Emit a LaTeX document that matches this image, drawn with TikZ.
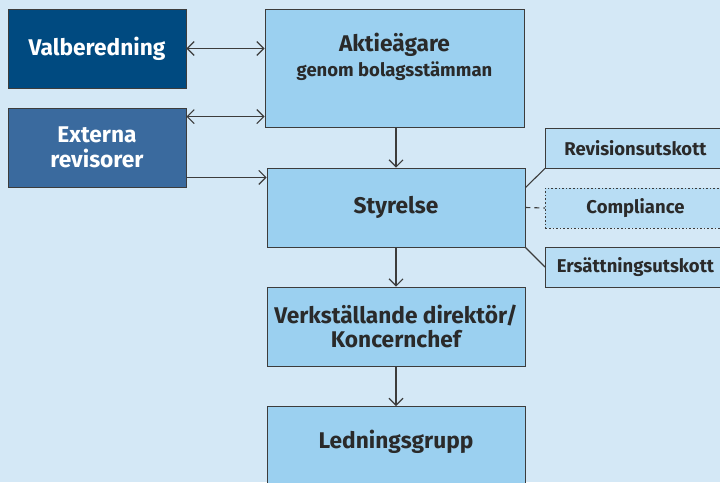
\documentclass[tikz,border=0pt]{standalone}
\usepackage{fontspec}
\setmainfont{Fira Sans}
\usetikzlibrary{arrows.meta}
\definecolor{bg}{HTML}{D4E8F6}
\definecolor{navy}{HTML}{004A80}
\definecolor{midblue}{HTML}{3A6A9E}
\definecolor{sky}{HTML}{9BD0F0}
\definecolor{pale}{HTML}{B8DDF4}
\definecolor{ink}{HTML}{2A2A2A}
\definecolor{linec}{HTML}{3C3C3C}
\tikzset{
  box/.style={draw=linec, line width=0.9pt, inner sep=0pt, align=center, font=\bfseries, text=ink},
  darkbox/.style={box, text=white},
  big/.style={font=\bfseries\fontsize{22.7}{24.5}\selectfont},
  small/.style={font=\bfseries\fontsize{18.5}{21}\selectfont},
  conn/.style={draw=linec, line width=1.1pt},
  arr/.style={conn, -{Straight Barb[length=7pt,width=14pt]}},
  darr/.style={conn, {Straight Barb[length=7pt,width=14pt]}-{Straight Barb[length=7pt,width=14pt]}},
}
\begin{document}
\begin{tikzpicture}[x=1pt,y=-1pt]
\fill[bg] (0,0) rectangle (720,482);
\useasboundingbox (0,0) rectangle (720,482);
% left boxes
\node[darkbox, fill=navy, minimum width=178pt, minimum height=79pt, big] (val) at (97,48.5) {Valberedning};
\node[darkbox, fill=midblue, minimum width=178pt, minimum height=79pt, big] (ext) at (97,147.5) {Externa\\revisorer};
% main column
\node[box, fill=sky, minimum width=259pt, minimum height=118pt] (akt) at (394.5,68) {};
\node[text=ink, big] (akt1) at (394.5,45) {Aktieägare};
\node[text=ink, small] (akt2) at (394.5,71) {genom bolagsstämman};
\node[box, fill=sky, minimum width=258pt, minimum height=79pt, big] (sty) at (396,207.5) {Styrelse};
\node[box, fill=sky, minimum width=258pt, minimum height=79pt, big] (vd) at (396,326.5) {Verkställande direktör/\\Koncernchef};
\node[box, fill=sky, minimum width=258pt, minimum height=90pt, anchor=north] (led) at (396,406) {};
\node[text=ink, big] (ledt) at (396,442) {Ledningsgrupp};
% committees
\node[box, fill=pale, minimum width=180pt, minimum height=40pt, anchor=west, small] (rev) at (545,148) {Revisionsutskott};
\node[box, fill=pale, dash pattern=on 1.6pt off 2pt, line width=0.9pt, minimum width=180pt, minimum height=40pt, anchor=west, small] (comp) at (545,208) {Compliance};
\node[box, fill=pale, minimum width=180pt, minimum height=40pt, anchor=west, small] (ers) at (545,267) {Ersättningsutskott};
% connectors
\draw[darr] (val.east) -- (val.east -| akt.west);
\draw[darr] ([yshift=-9pt]ext.north east) -- ([yshift=-9pt]ext.north east -| akt.west);
\draw[arr] ([yshift=10pt]ext.south east) -- ([yshift=10pt]ext.south east -| sty.west);
\draw[arr] (akt.south -| sty.north) -- (sty.north);
\draw[arr] (sty.south) -- (vd.north);
\draw[arr] (vd.south) -- (led.north);
\draw[conn] ([yshift=-20pt]sty.north east) -- (rev.south west);
\draw[conn, dash pattern=on 5pt off 4pt] (sty.east) -- (comp.west);
\draw[conn] (sty.south east) -- (ers.west);
\end{tikzpicture}
\end{document}
